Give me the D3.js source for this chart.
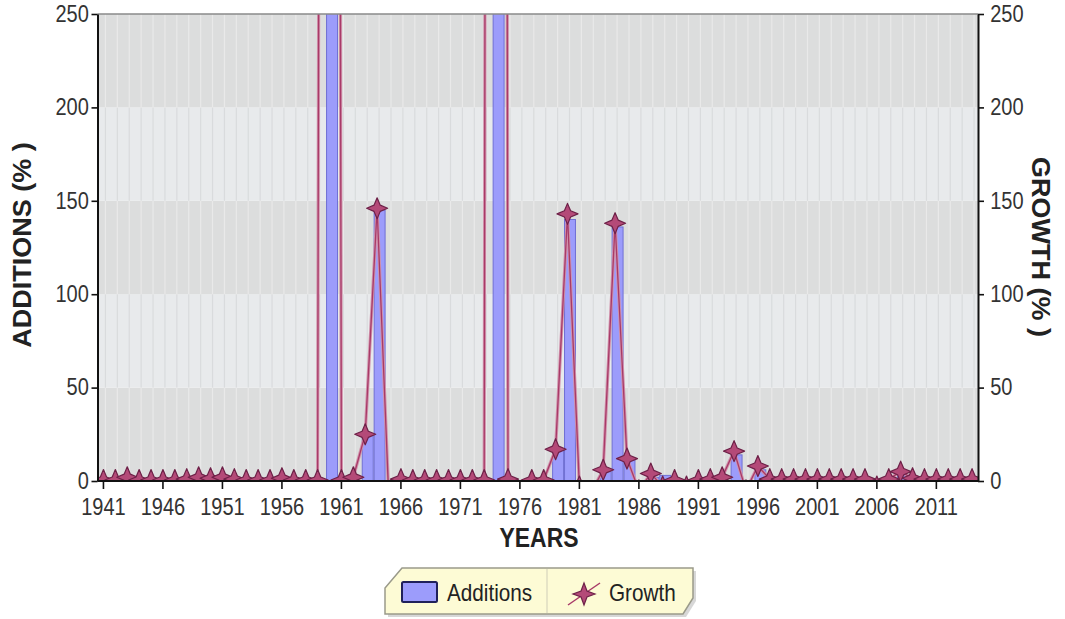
<!DOCTYPE html>
<html><head><meta charset="utf-8">
<script src="https://cdn.jsdelivr.net/npm/d3@7"></script>
<style>body{margin:0;background:#fff}svg{display:block}</style>
</head><body><svg id="c" width="1065" height="619"></svg>
<script>
const years = [1941,1942,1943,1944,1945,1946,1947,1948,1949,1950,1951,1952,1953,1954,1955,1956,1957,1958,1959,1960,
1961,1962,1963,1964,1965,1966,1967,1968,1969,1970,1971,1972,1973,1974,1975,1976,1977,1978,1979,1980,
1981,1982,1983,1984,1985,1986,1987,1988,1989,1990,1991,1992,1993,1994,1995,1996,1997,1998,1999,2000,
2001,2002,2003,2004,2005,2006,2007,2008,2009,2010,2011,2012,2013,2014];
const additions = [0,0,0,0,0,0,0,0,0,0,0,0,0,0,0,0,0,0,0,3000,
0,0,25,145,0,0,0,0,0,0,0,0,0,4000,0,0,0,0,17,140,
0,0,5,136,12,0,2,3,0,0,0,0,0,14,0,6,0,0,0,0,
0,0,0,0,0,0,0,3,0,0,0,0,0,0];
const growth = [0.5,0.5,2,0.5,0.5,0.5,0.5,1,2,1.5,2,1,0.5,0.5,0.5,1.5,0.5,0.5,0.5,3000,
0.5,2,25,146,-12,1,0.5,0.5,0.5,0.5,0.5,0.5,0.5,4000,1,-8,0.5,0.5,17,143,
-3,-6,6,138,12,-5,4,-3,0.5,-3,0.5,1,2,16,-5,8,1,1,1,1,
1,1,1,1,1,-3,1,5,1.5,1,1,1,1,1];
const yTicks = [0,50,100,150,200,250];
const xTickYears = [1941,1946,1951,1956,1961,1966,1971,1976,1981,1986,1991,1996,2001,2006,2011];

const svg = d3.select("#c");
const L=97.5, R=978, T=14, B=481;
const x = d3.scaleBand().domain(years).range([L,R]).padding(0);
const y = d3.scaleLinear().domain([0,250]).range([B,T]);
const bw = x.bandwidth();
const FONT = "'Liberation Sans', Arial, sans-serif";

svg.append("defs").append("clipPath").attr("id","plot")
  .append("rect").attr("x",L).attr("y",T).attr("width",R-L).attr("height",B-T);

// background bands
const bands = d3.pairs(yTicks);
const bg = svg.append("g");
bands.forEach((p,i)=>{
  const dark = i%2===0;
  bg.append("rect").attr("x",L).attr("y",y(p[1])).attr("width",R-L).attr("height",y(p[0])-y(p[1]))
    .attr("fill", dark ? "#dcdddd" : "#e8eaec");
  bg.selectAll(null).data(years).enter().append("line")
    .attr("x1",d=>x(d)+bw/2+2).attr("x2",d=>x(d)+bw/2+2)
    .attr("y1",y(p[1])).attr("y2",y(p[0]))
    .attr("stroke", dark ? "#e9e9e9" : "#d9dbdd").attr("stroke-width",1.2);
});

const plot = svg.append("g").attr("clip-path","url(#plot)");

// bars
plot.selectAll("rect.bar").data(years.map((yr,i)=>({yr, v:additions[i]})).filter(d=>d.v>0))
  .enter().append("rect").attr("class","bar")
  .attr("x",d=>x(d.yr)+2.5+bw*0.04).attr("width",bw*0.92)
  .attr("y",d=>y(d.v)).attr("height",d=>y(0)-y(d.v))
  .attr("fill","#9c9cfb").attr("stroke","#7070d4").attr("stroke-width",1);

// growth line
const gdata = years.map((yr,i)=>({yr, v:growth[i]}));
const lineGen = d3.line().x(d=>x(d.yr)+bw/2).y(d=>y(d.v));
plot.append("path").datum(gdata).attr("d", lineGen)
  .attr("fill","none").attr("stroke","#d191ab").attr("stroke-width",3.2);
plot.append("path").datum(gdata).attr("d", lineGen)
  .attr("fill","none").attr("stroke","#a83a68").attr("stroke-width",1.3);

// star shape
function starPath(ro, ri){
  const pts=[];
  for(let k=0;k<8;k++){ pts.push([k*Math.PI/4, k%2===0?ro:ri]); }
  return d3.lineRadial().angle(d=>d[0]).radius(d=>d[1]).curve(d3.curveLinearClosed)(pts);
}
const star = starPath(10.5, 4.4);
plot.selectAll("path.star").data(gdata).enter().append("path").attr("class","star")
  .attr("transform",d=>`translate(${x(d.yr)+bw/2},${y(d.v)})`)
  .attr("d",star).attr("fill","#b44a78").attr("stroke","#6e2148").attr("stroke-width",1.2)
  .attr("stroke-linejoin","round");

// top border
svg.append("line").attr("x1",L).attr("x2",R).attr("y1",T).attr("y2",T)
  .attr("stroke","#8a8a8a").attr("stroke-width",1.5);

// axes
const sx = 0.87;
function styleAxis(g){
  g.select(".domain").attr("stroke","#111").attr("stroke-width",2);
  g.selectAll(".tick line").attr("stroke","#111").attr("stroke-width",1.6);
  g.selectAll(".tick text").attr("fill","#333").attr("font-size",23).attr("font-family",FONT)
   .attr("transform",`scale(${sx},1)`);
}
const gl = svg.append("g").attr("transform",`translate(${L},0)`)
  .call(d3.axisLeft(y).tickValues(yTicks).tickSize(6).tickPadding(4).tickSizeOuter(0));
styleAxis(gl);
const gr = svg.append("g").attr("transform",`translate(${R},0)`)
  .call(d3.axisRight(y).tickValues(yTicks).tickSize(6).tickPadding(8).tickSizeOuter(0));
styleAxis(gr);
const gb = svg.append("g").attr("transform",`translate(0,${B})`)
  .call(d3.axisBottom(x).tickValues(xTickYears).tickSize(8).tickPadding(10).tickSizeOuter(0));
styleAxis(gb);
gb.select(".domain").attr("d",`M${L},0H${R}`);

// titles
svg.append("text").attr("transform","translate(31,245) rotate(-90) scale(1.08,1)")
  .attr("text-anchor","middle").attr("font-family",FONT).attr("font-weight","bold")
  .attr("font-size",25).attr("fill","#222").text("ADDITIONS (% )");
svg.append("text").attr("transform","translate(1032,247) rotate(90) scale(1.08,1)")
  .attr("text-anchor","middle").attr("font-family",FONT).attr("font-weight","bold")
  .attr("font-size",25).attr("fill","#222").text("GROWTH (% )");
svg.append("text").attr("transform","translate(539,547) scale(0.85,1)")
  .attr("text-anchor","middle").attr("font-family",FONT).attr("font-weight","bold")
  .attr("font-size",27).attr("fill","#222").text("YEARS");

// legend
const lg = svg.append("g");
const shape = "M402,568 L693,568 L693,598 L683,614 L385,614 L385,588 Z";
lg.append("path").attr("d",shape).attr("transform","translate(3,3)").attr("fill","#bdbdbd").attr("opacity",0.6);
lg.append("path").attr("d",shape).attr("fill","#fdfbd5").attr("stroke","#9a9a8a").attr("stroke-width",1.5);
lg.append("line").attr("x1",547).attr("x2",547).attr("y1",569).attr("y2",613).attr("stroke","#cfcdb8");
lg.append("rect").attr("x",402).attr("y",582).attr("width",35).attr("height",20).attr("rx",1.5)
  .attr("fill","#9c9cfb").attr("stroke","#20205a").attr("stroke-width",2);
lg.append("text").attr("transform","translate(447,601) scale(0.9,1)").attr("font-family",FONT)
  .attr("font-size",23).attr("fill","#222").text("Additions");
lg.append("line").attr("x1",568).attr("y1",605).attr("x2",600).attr("y2",583)
  .attr("stroke","#a83a68").attr("stroke-width",1.5);
lg.append("path").attr("d",starPath(11,4.2)).attr("transform","translate(584,594)")
  .attr("fill","#b44a78").attr("stroke","#6e2148").attr("stroke-width",1.2);
lg.append("text").attr("transform","translate(609,601) scale(0.9,1)").attr("font-family",FONT)
  .attr("font-size",23).attr("fill","#222").text("Growth");
</script></body></html>
